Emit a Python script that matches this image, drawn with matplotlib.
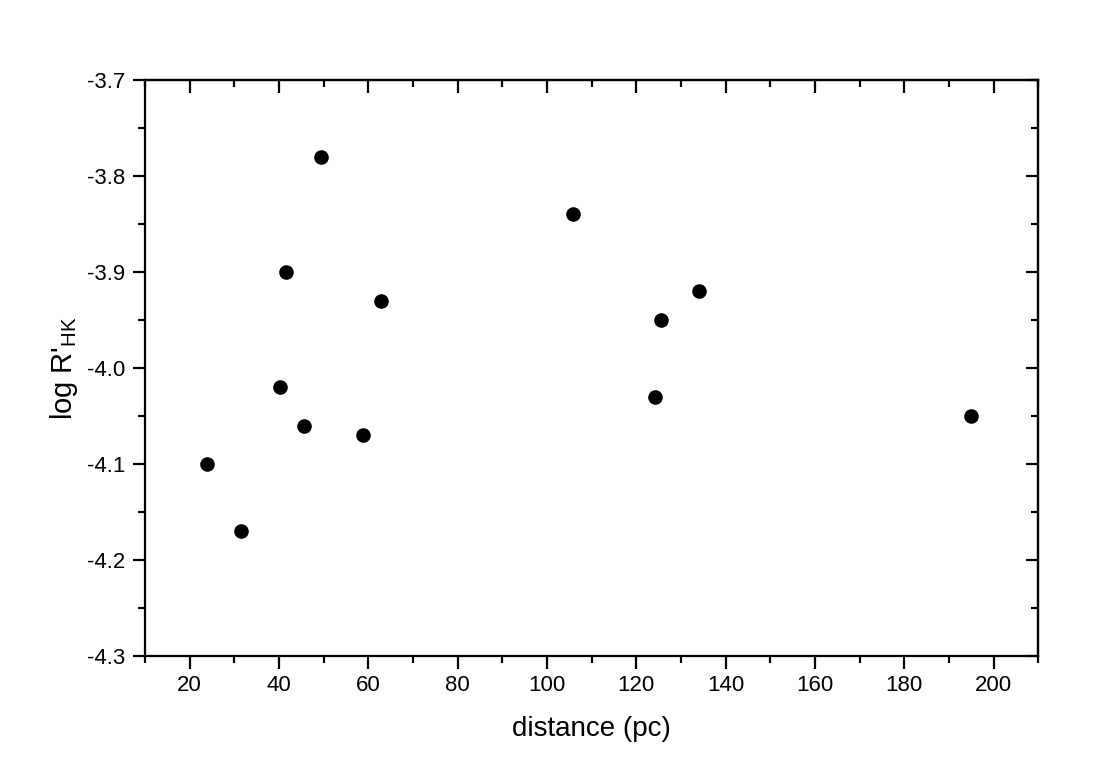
import matplotlib
matplotlib.use("Agg")
import matplotlib.pyplot as plt
from matplotlib.ticker import MultipleLocator, FormatStrFormatter

distance = [23.8, 31.6, 40.2, 41.5, 45.7, 49.4, 58.9, 62.8, 105.8, 124.2, 125.5, 134.1, 194.9]
log_rhk = [-4.10, -4.17, -4.02, -3.90, -4.06, -3.78, -4.07, -3.93, -3.84, -4.03, -3.95, -3.92, -4.05]
xticks = [20, 40, 60, 80, 100, 120, 140, 160, 180, 200]

plt.rcParams['font.family'] = ['Liberation Sans', 'DejaVu Sans']
plt.rcParams['axes.unicode_minus'] = False
plt.rcParams['mathtext.fontset'] = 'custom'
plt.rcParams['mathtext.rm'] = 'Liberation Sans'

fig = plt.figure(figsize=(11.13, 7.7), dpi=100)
ax = fig.add_axes([0.1303, 0.1481, 0.8026, 0.7480])

ax.plot(distance, log_rhk, 'o', color='black', markersize=10.5, markeredgewidth=0)

ax.set_xlim(10, 210)
ax.set_ylim(-4.3, -3.7)
ax.set_xticks(xticks)
ax.xaxis.set_minor_locator(MultipleLocator(10))
ax.yaxis.set_major_locator(MultipleLocator(0.1))
ax.yaxis.set_minor_locator(MultipleLocator(0.05))
ax.yaxis.set_major_formatter(FormatStrFormatter('%.1f'))

for s in ax.spines.values():
    s.set_linewidth(1.6)

ax.tick_params(which='both', width=1.6, labelsize=16, pad=5)
ax.tick_params(which='major', length=9)
ax.tick_params(which='minor', length=5)
ax.tick_params(axis='x', which='both', direction='out', bottom=True, top=False)
ax.tick_params(axis='y', which='both', direction='out', left=True, right=False)

# inward ticks on top and right
axt = ax.secondary_xaxis('top')
axt.set_xticks(xticks)
axt.xaxis.set_minor_locator(MultipleLocator(10))
axt.tick_params(which='both', direction='in', width=1.6, labeltop=False)
axt.tick_params(which='major', length=9)
axt.tick_params(which='minor', length=5)
axt.spines['top'].set_linewidth(1.6)

axr = ax.secondary_yaxis('right')
axr.yaxis.set_major_locator(MultipleLocator(0.1))
axr.yaxis.set_minor_locator(MultipleLocator(0.05))
axr.tick_params(which='both', direction='in', width=1.6, labelright=False)
axr.tick_params(which='major', length=9)
axr.tick_params(which='minor', length=5)
axr.spines['right'].set_linewidth(1.6)

ax.set_xlabel('distance (pc)', fontsize=20, labelpad=14)
ax.set_ylabel(r"log R'$_{\mathregular{HK}}$", fontsize=21, labelpad=5)

fig.savefig('out.png', dpi=100)
